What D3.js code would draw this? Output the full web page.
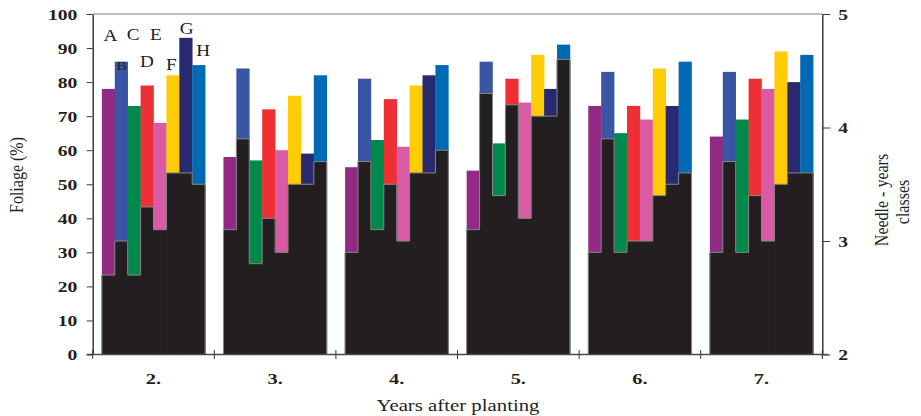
<!DOCTYPE html>
<html>
<head>
<meta charset="utf-8">
<script src="https://cdn.jsdelivr.net/npm/d3@7"></script>
<style>
  body { margin: 0; background: #fff; }
  svg { display: block; }
  text { font-family: "Liberation Serif", "Times New Roman", serif; fill: #231f20; }
</style>
</head>
<body>
<svg id="chart" width="921" height="416"></svg>
<script>
// Years after planting (x categories)
const years = ["2.", "3.", "4.", "5.", "6.", "7."];
// Series (treatments)
const seriesNames = ["A", "B", "C", "D", "E", "F", "G", "H"];
const seriesColors = ["#922a84", "#3b55a5", "#00894b", "#ee3034", "#d95ba3", "#ffcc05", "#29296f", "#0069b4"];

// Foliage (%) per year, one list per series
const foliageA = [78, 58, 55, 54, 73, 64];
const foliageB = [86, 84, 81, 86, 83, 83];
const foliageC = [73, 57, 63, 62, 65, 69];
const foliageD = [79, 72, 75, 81, 73, 81];
const foliageE = [68, 60, 61, 74, 69, 78];
const foliageF = [82, 76, 79, 88, 84, 89];
const foliageG = [93, 59, 82, 78, 73, 80];
const foliageH = [85, 82, 85, 91, 86, 88];

// Needle-years classes per year, one list per series
const needleA = [2.7, 3.1, 2.9, 3.1, 2.9, 2.9];
const needleB = [3.0, 3.9, 3.7, 4.3, 3.9, 3.7];
const needleC = [2.7, 2.8, 3.1, 3.4, 2.9, 2.9];
const needleD = [3.3, 3.2, 3.5, 4.2, 3.0, 3.4];
const needleE = [3.1, 2.9, 3.0, 3.2, 3.0, 3.0];
const needleF = [3.6, 3.5, 3.6, 4.1, 3.4, 3.5];
const needleG = [3.6, 3.5, 3.6, 4.1, 3.5, 3.6];
const needleH = [3.5, 3.7, 3.8, 4.6, 3.6, 3.6];

// Axis ticks
const foliageTicks = [0, 10, 20, 30, 40, 50, 60, 70, 80, 90, 100];
const needleTicks = [2, 3, 4, 5];

const foliage = [foliageA, foliageB, foliageC, foliageD, foliageE, foliageF, foliageG, foliageH];
const needle = [needleA, needleB, needleC, needleD, needleE, needleF, needleG, needleH];

// ---- layout ----
const plotLeft = 92.7, plotRight = 822.3, plotTop = 14, plotBottom = 354.5;
const SX = 1.4; // horizontal widening of the lettering

const svg = d3.select("#chart");

const x0 = d3.scaleBand().domain(years).range([plotLeft, plotRight]).padding(0);
const x1 = d3.scaleBand().domain(seriesNames).range([0, x0.bandwidth()])
  .paddingInner(0).paddingOuter(0.71);
const yL = d3.scaleLinear().domain([0, 100]).range([plotBottom, plotTop]);
const yR = d3.scaleLinear().domain([2, 5]).range([plotBottom, plotTop]);

// frame top line
svg.append("line")
  .attr("x1", plotLeft).attr("x2", plotRight).attr("y1", plotTop).attr("y2", plotTop)
  .attr("stroke", "#a7a7a7").attr("stroke-width", 1.5);

// ---- bars ----
const groups = svg.append("g").selectAll("g")
  .data(years.map((yr, i) => ({ yr, i })))
  .join("g")
  .attr("transform", d => `translate(${x0(d.yr)},0)`);

// coloured foliage bars
groups.selectAll("rect.fol")
  .data(d => seriesNames.map((s, k) => ({ s, k, v: foliage[k][d.i] })))
  .join("rect")
  .attr("class", "fol")
  .attr("x", d => x1(d.s))
  .attr("width", x1.bandwidth() + 0.3)
  .attr("y", d => yL(d.v))
  .attr("height", d => yL(0) - yL(d.v))
  .attr("fill", d => seriesColors[d.k]);

// black needle-years bars (right axis)
groups.selectAll("rect.ndl")
  .data(d => seriesNames.map((s, k) => ({ s, k, v: needle[k][d.i] })))
  .join("rect")
  .attr("class", "ndl")
  .attr("x", d => x1(d.s) - 0.2)
  .attr("width", x1.bandwidth() + 0.6)
  .attr("y", d => yR(d.v))
  .attr("height", d => yR(2) - yR(d.v))
  .attr("fill", "#231f20");

// light outline around the stepped black silhouette
const outline = d3.line();
groups.append("path")
  .attr("d", d => {
    const pts = [[x1(seriesNames[0]), yR(2)]];
    seriesNames.forEach((s, k) => {
      const y = yR(needle[k][d.i]);
      pts.push([x1(s), y], [x1(s) + x1.bandwidth(), y]);
    });
    pts.push([x1(seriesNames[seriesNames.length - 1]) + x1.bandwidth(), yR(2)]);
    return outline(pts);
  })
  .attr("fill", "none")
  .attr("stroke", "#8a8a8a")
  .attr("stroke-width", 1);

// ---- axes ----
// left axis
const gL = svg.append("g").attr("transform", `translate(${plotLeft},0)`)
  .call(d3.axisLeft(yL).tickValues(foliageTicks).tickSize(6).tickSizeOuter(0).tickFormat(d3.format("d")));
gL.attr("font-family", null);
gL.select(".domain").attr("stroke", "#3a3a3a").attr("stroke-width", 1.5);
gL.selectAll(".tick line").attr("stroke", "#3a3a3a").attr("stroke-width", 1);
gL.selectAll(".tick text")
  .attr("font-size", 14).attr("font-weight", "bold")
  .attr("x", -15.4 / SX).attr("dy", "0.36em")
  .attr("transform", `scale(${SX},1)`);

// right axis
const gR = svg.append("g").attr("transform", `translate(${plotRight},0)`)
  .call(d3.axisRight(yR).tickValues(needleTicks).tickSize(8).tickSizeOuter(0).tickFormat(d3.format("d")));
gR.attr("font-family", null);
gR.select(".domain").attr("stroke", "#3a3a3a").attr("stroke-width", 1.5);
gR.selectAll(".tick line").attr("stroke", "#3a3a3a").attr("stroke-width", 1);
gR.selectAll(".tick text")
  .attr("font-size", 14).attr("font-weight", "bold")
  .attr("x", 16 / SX).attr("dy", "0.36em")
  .attr("transform", `scale(${SX},1)`);

// bottom axis: baseline with ticks crossing at group boundaries
svg.append("line")
  .attr("x1", plotLeft - 6).attr("x2", plotRight + 6)
  .attr("y1", plotBottom).attr("y2", plotBottom)
  .attr("stroke", "#4a4a4a").attr("stroke-width", 1.3);
const bounds = years.map(y => x0(y)).concat([x0.range()[1]]);
svg.append("g").selectAll("line")
  .data(bounds)
  .join("line")
  .attr("x1", d => d).attr("x2", d => d)
  .attr("y1", plotBottom - 4.5).attr("y2", plotBottom + 4.5)
  .attr("stroke", "#3a3a3a").attr("stroke-width", 1);

svg.append("g").selectAll("text")
  .data(years)
  .join("text")
  .attr("transform", d => `translate(${x0(d) + x0.bandwidth() / 2},384) scale(1.36,1)`)
  .attr("text-anchor", "middle")
  .attr("font-size", 15)
  .attr("font-weight", "bold")
  .text(d => d);

// ---- axis titles ----
svg.append("text")
  .attr("transform", "translate(458,411) scale(1.3,1)")
  .attr("text-anchor", "middle").attr("font-size", 16)
  .text("Years after planting");

svg.append("text")
  .attr("transform", "translate(23,175) scale(1.2,1) rotate(-90)")
  .attr("text-anchor", "middle").attr("font-size", 16)
  .text("Foliage (%)");

svg.append("text")
  .attr("transform", "translate(888,200) scale(1.2,1) rotate(-90)")
  .attr("text-anchor", "middle").attr("font-size", 16)
  .text("Needle - years");

svg.append("text")
  .attr("transform", "translate(909,202) scale(1.2,1) rotate(-90)")
  .attr("text-anchor", "middle").attr("font-size", 16)
  .text("classes");

// ---- series letters over the first group ----
const labelLevel = [92.1, 83.7, 92.3, 84.5, 92.3, 83.5, 94.1, 87.7];
const labelNudge = [2, 0.5, -1, 0, -4, -1.5, 1, 4.5];
svg.append("g").selectAll("text")
  .data(seriesNames)
  .join("text")
  .attr("transform", (s, k) =>
    `translate(${x0(years[0]) + x1(s) + x1.bandwidth() / 2 + labelNudge[k]},${yL(labelLevel[k])}) scale(1.2,1)`)
  .attr("text-anchor", "middle")
  .attr("font-size", (s, k) => k === 1 ? 13 : 16)
  .text(s => s);
</script>
</body>
</html>
